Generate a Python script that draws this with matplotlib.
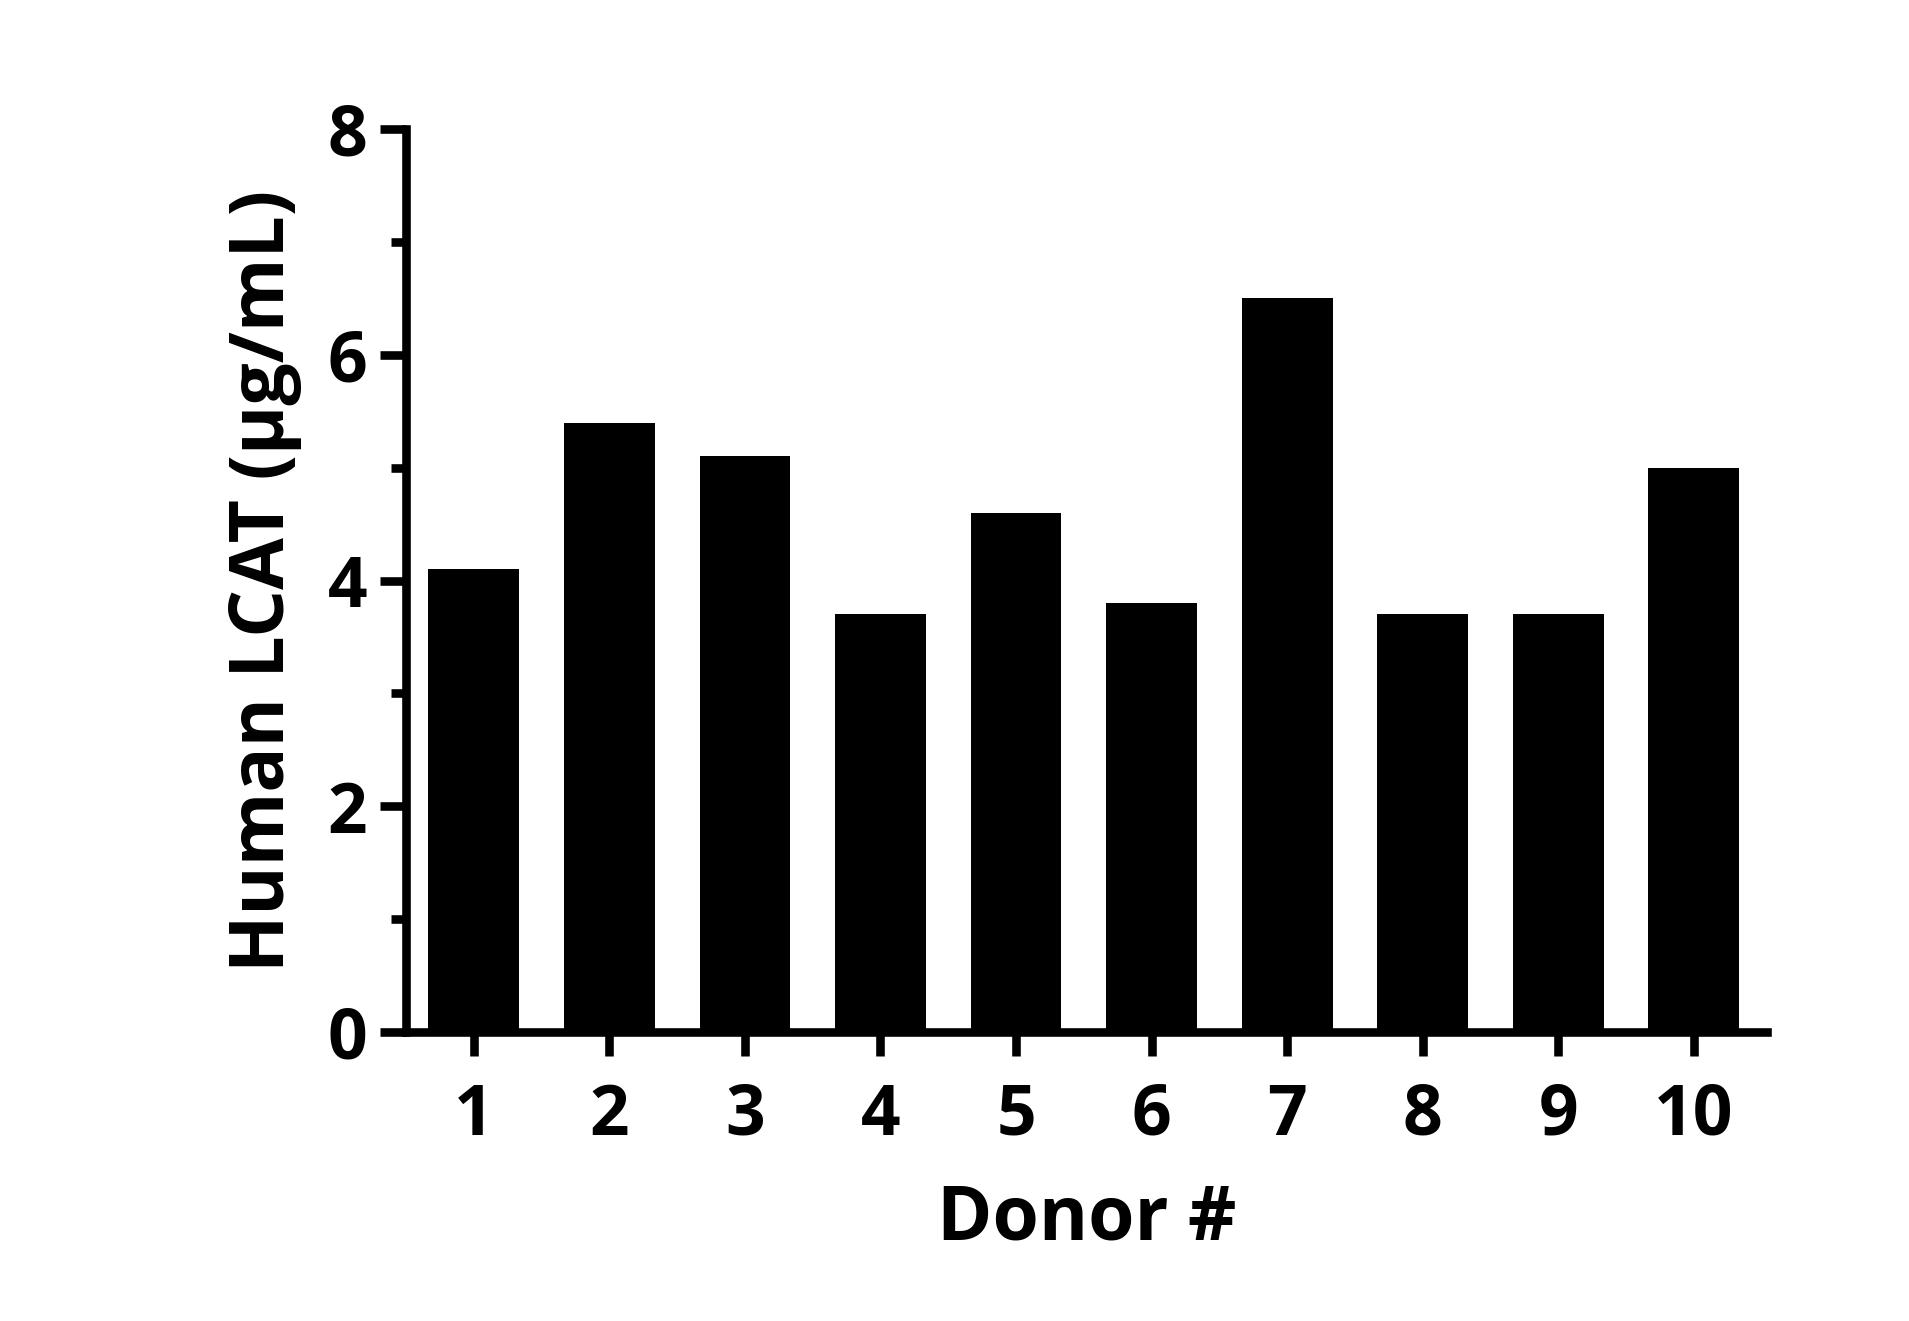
import numpy as np
import matplotlib
matplotlib.use("Agg")
import matplotlib.pyplot as plt
from matplotlib.ticker import MultipleLocator

donors = ["1", "2", "3", "4", "5", "6", "7", "8", "9", "10"]
lcat = [4.1, 5.4, 5.1, 3.7, 4.6, 3.8, 6.5, 3.7, 3.7, 5.0]
yticks = [0, 2, 4, 6, 8]

plt.rcParams['font.family'] = ['Open Sans', 'DejaVu Sans']

fig = plt.figure(figsize=(19.09, 13.21), dpi=100)
ax = fig.add_axes([0.2127, 0.2188, 0.7129, 0.6835])

x = np.arange(1, len(donors) + 1)
ax.bar(x, lcat, width=0.67, color='black', edgecolor='none', zorder=2)

ax.set_xlim(0.5, 10.54)
ax.set_ylim(0, 8)
ax.set_xticks(x)
ax.set_xticklabels(donors)
ax.set_yticks(yticks)
ax.yaxis.set_minor_locator(MultipleLocator(1))

for s in ['top', 'right']:
    ax.spines[s].set_visible(False)
for s in ['left', 'bottom']:
    ax.spines[s].set_linewidth(6.2)
    ax.spines[s].set_zorder(3)
    ax.spines[s].set_capstyle('projecting')

ax.tick_params(axis='y', which='major', length=19, width=6.2, pad=9,
               labelsize=50)
ax.tick_params(axis='y', which='minor', length=11, width=6.2)
ax.tick_params(axis='x', which='major', length=17, width=6.2, pad=19,
               labelsize=50)
for lab in ax.get_xticklabels() + ax.get_yticklabels():
    lab.set_fontweight('bold')

ax.set_ylabel('Human LCAT (µg/mL)', fontsize=54, fontweight='bold', labelpad=18)
ax.set_xlabel('Donor #', fontsize=54, fontweight='bold', labelpad=22)

fig.savefig('out.png', dpi=100)
